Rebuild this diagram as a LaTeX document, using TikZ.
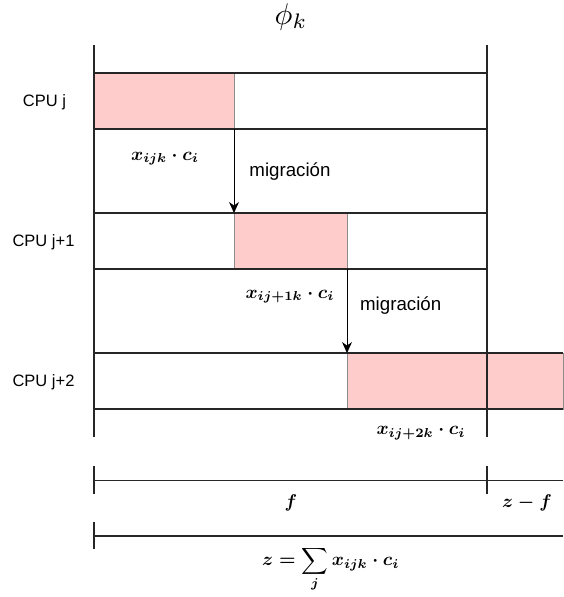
\documentclass[tikz,border=0pt]{standalone}
\usepackage{amsmath}
\usepackage{fontspec}
\setsansfont{Liberation Sans}
\usetikzlibrary{arrows.meta}
\begin{document}
\begin{tikzpicture}[x=1pt,y=-1pt,
  ln/.style={draw=black!85, line width=1.1pt},
  pinkbox/.style={fill=red!20, draw=black!45, line width=0.8pt},
  cpu/.style={font=\sffamily\fontsize{16.5}{19}\selectfont, anchor=base, inner sep=0pt},
  mig/.style={font=\sffamily\fontsize{18.7}{22}\selectfont, anchor=base, inner sep=0pt},
  lbl/.style={scale=1.85, anchor=base, inner sep=0pt},
  arr/.style={draw=black, line width=1pt, -{Stealth[length=11pt,width=10pt]}}]
\useasboundingbox (0,0) rectangle (563,597);
% pink boxes
\path[pinkbox] (94,73) rectangle (234,129);
\path[pinkbox] (234,213) rectangle (347,269);
\path[pinkbox] (347,353) rectangle (563,409);
% rows
\draw[ln] (94,73) -- (487,73) (94,129) -- (487,129);
\draw[ln] (94,213) -- (487,213) (94,269) -- (487,269);
\draw[ln] (94,353) -- (563,353) (94,409) -- (563,409);
\draw[ln] (487,353) -- (487,409);
% verticals
\draw[ln] (94,45) -- (94,437);
\draw[ln] (487,45) -- (487,437);
% arrows
\coordinate (a1) at (234,129);
\coordinate (a2) at (234,213);
\coordinate (b1) at (347,269);
\coordinate (b2) at (347,353);
\draw[arr] (a1) -- (a2);
\draw[arr] (b1) -- (b2);
% labels
\node[scale=3, anchor=base, inner sep=0pt] (phi) at (291,24.2) {$\phi_k$};
\node[cpu] (c1) at (44.5,106.3) {CPU j};
\node[cpu] (c2) at (43.5,246.7) {CPU j+1};
\node[cpu] (c3) at (43.5,386.7) {CPU j+2};
\node[mig] (m1) at (290,176.7) {migración};
\node[mig] (m2) at (400.7,310) {migración};
\node[lbl] (l1) at (165,160) {$\boldsymbol{x_{ijk}\cdot c_i}$};
\node[lbl] (l2) at (290,298) {$\boldsymbol{x_{ij+1k}\cdot c_i}$};
\node[lbl] (l3) at (421,434.7) {$\boldsymbol{x_{ij+2k}\cdot c_i}$};
% bottom scales
\coordinate (s1) at (94,480.5);
\coordinate (s2) at (563,480.5);
\draw[ln] (s1) -- (s2);
\draw[ln] (94,466) -- (94,494);
\draw[ln] (487,466) -- (487,494);
\coordinate (t1) at (94,536);
\coordinate (t2) at (563,536);
\draw[ln] (t1) -- (t2);
\draw[ln] (94,522) -- (94,549);
\node[lbl] (f) at (291,507.7) {$\boldsymbol{f}$};
\node[lbl] (zf) at (527,507.7) {$\boldsymbol{z-f}$};
\node[lbl] (z) at (330.8,565.7) {$\displaystyle\boldsymbol{z=\sum_{j} x_{ijk}\cdot c_i}$};
\end{tikzpicture}
\end{document}
